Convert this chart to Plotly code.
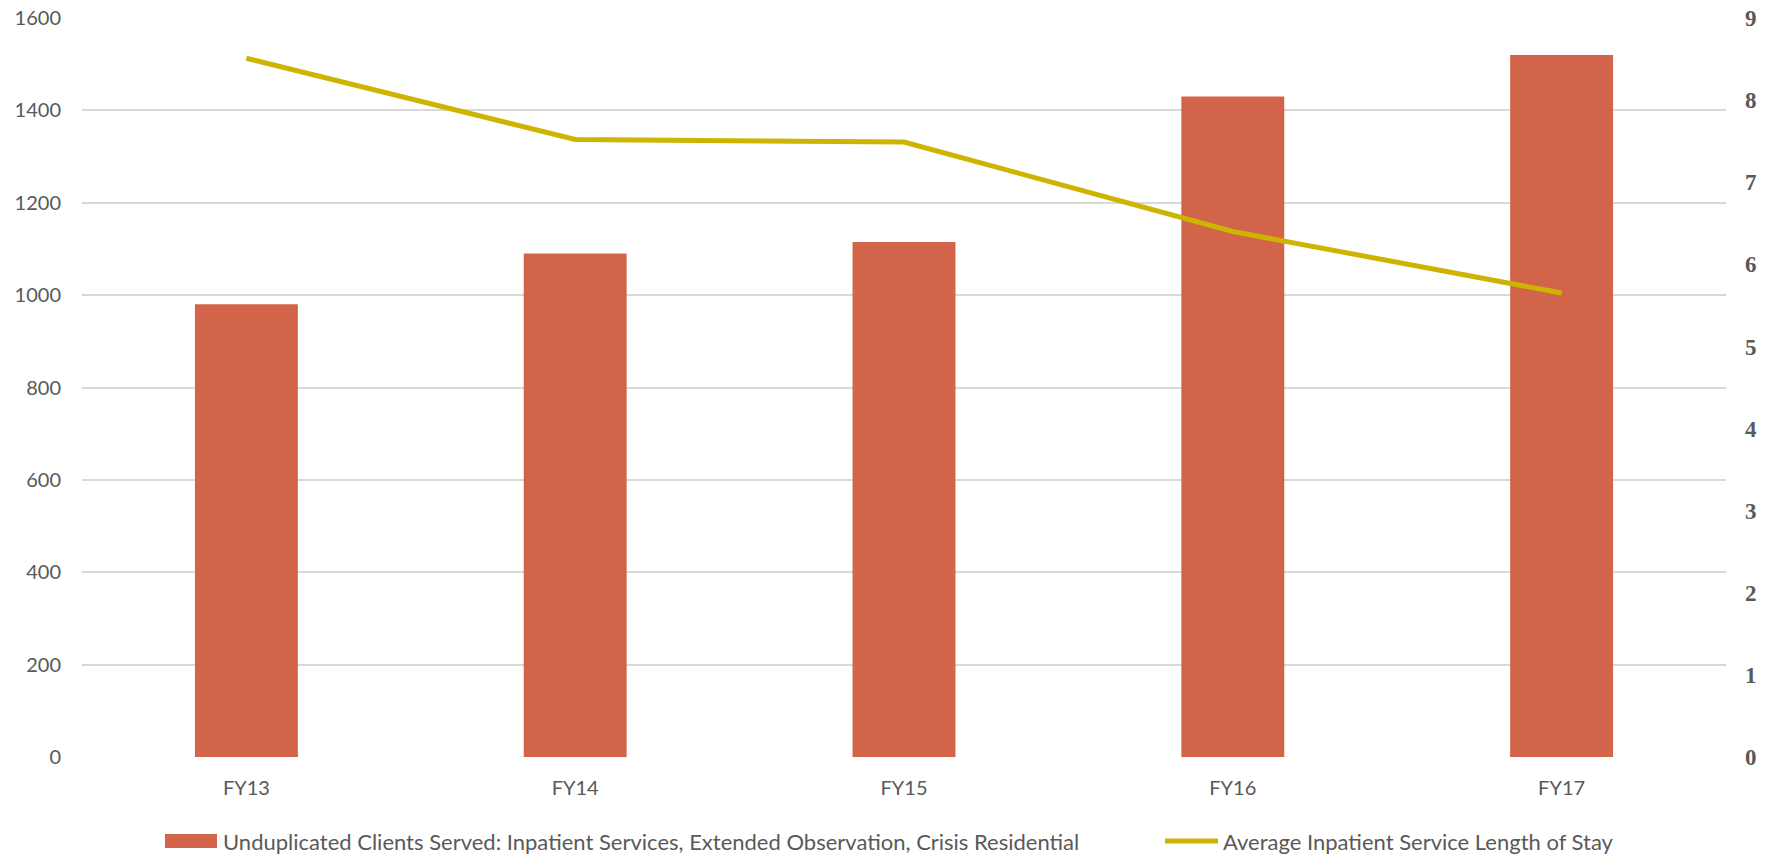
import plotly.graph_objects as go

categories = ["FY13", "FY14", "FY15", "FY16", "FY17"]
clients_served = [980, 1090, 1115, 1430, 1520]
avg_length_of_stay = [8.51, 7.52, 7.49, 6.40, 5.65]
left_ticks = [0, 200, 400, 600, 800, 1000, 1200, 1400, 1600]
right_ticks = [0, 1, 2, 3, 4, 5, 6, 7, 8, 9]

bar_name = "Unduplicated Clients Served: Inpatient Services, Extended Observation, Crisis Residential"
line_name = "Average Inpatient Service Length of Stay"

BAR_COLOR = "#D16449"
LINE_COLOR = "#CDB400"
TEXT_COLOR = "#595959"
GRID_COLOR = "#D9D9D9"
SANS = "Lato"
SERIF = "Liberation Serif"

fig = go.Figure()
fig.add_trace(go.Bar(
    x=categories, y=clients_served, name=bar_name,
    marker=dict(color=BAR_COLOR, line=dict(width=0)),
    width=0.313, yaxis="y", showlegend=False,
))
fig.add_trace(go.Scatter(
    x=categories, y=avg_length_of_stay, name=line_name, mode="lines",
    line=dict(color=LINE_COLOR, width=5), yaxis="y2", showlegend=False,
))

fig.update_layout(
    width=1779, height=855,
    margin=dict(l=82, r=53, t=18, b=98, autoexpand=False),
    paper_bgcolor="white", plot_bgcolor="white",
    showlegend=False,
    xaxis=dict(
        type="category", range=[-0.5, 4.5], showgrid=False, zeroline=False,
        showline=False, ticks="", tickfont=dict(family=SANS, size=20, color=TEXT_COLOR),
        ticklabelstandoff=17, automargin=False,
    ),
    yaxis=dict(
        range=[0, 1600], tickvals=left_ticks, showgrid=True, gridcolor=GRID_COLOR,
        gridwidth=1.5, zeroline=False, showline=False, ticks="",
        tickfont=dict(family=SANS, size=20, color=TEXT_COLOR), ticklabelstandoff=20,
        automargin=False,
    ),
    yaxis2=dict(
        range=[0, 9], tickvals=right_ticks, overlaying="y", side="right",
        showgrid=False, zeroline=False, showline=False, ticks="",
        tickfont=dict(family=SERIF, size=23, color=TEXT_COLOR, weight="bold"),
        ticklabelstandoff=18, automargin=False,
    ),
)

# custom legend
fig.add_shape(type="rect", xref="paper", yref="paper",
              x0=(165 - 82) / 1644, x1=(217 - 82) / 1644,
              y0=(757 - 834) / 739, y1=(757 - 848) / 739,
              fillcolor=BAR_COLOR, line=dict(width=0))
fig.add_annotation(xref="paper", yref="paper", x=(221 - 82) / 1644, y=(757 - 841) / 739,
                   text=bar_name, showarrow=False, xanchor="left", yanchor="middle",
                   font=dict(family=SANS, size=22, color=TEXT_COLOR))
fig.add_shape(type="line", xref="paper", yref="paper",
              x0=(1165 - 82) / 1644, x1=(1218 - 82) / 1644,
              y0=(757 - 841) / 739, y1=(757 - 841) / 739,
              line=dict(color=LINE_COLOR, width=5))
fig.add_annotation(xref="paper", yref="paper", x=(1221 - 82) / 1644, y=(757 - 841) / 739,
                   text=line_name, showarrow=False, xanchor="left", yanchor="middle",
                   font=dict(family=SANS, size=22, color=TEXT_COLOR))

fig.write_html("out.html")
